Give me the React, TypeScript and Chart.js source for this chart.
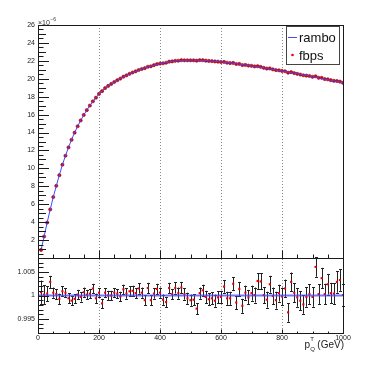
import React, { useEffect, useRef } from 'react';
import { Chart, registerables } from 'chart.js';

Chart.register(...registerables);

const FONT = '"Liberation Sans", Arial, Helvetica, sans-serif';

// p_T^Q bin positions (GeV)
const ptGeV = [
  10, 20, 30, 40, 50, 60, 70, 80, 90, 100,
  110, 120, 130, 140, 150, 160, 170, 180, 190, 200,
  210, 220, 230, 240, 250, 260, 270, 280, 290, 300,
  310, 320, 330, 340, 350, 360, 370, 380, 390, 400,
  410, 420, 430, 440, 450, 460, 470, 480, 490, 500,
  510, 520, 530, 540, 550, 560, 570, 580, 590, 600,
  610, 620, 630, 640, 650, 660, 670, 680, 690, 700,
  710, 720, 730, 740, 750, 760, 770, 780, 790, 800,
  810, 820, 830, 840, 850, 860, 870, 880, 890, 900,
  910, 920, 930, 940, 950, 960, 970, 980, 990, 1000,
];

// rambo curve (units of 1e-6)
const rambo = [
  0.9, 2.4, 3.95, 5.4, 6.8, 8.05, 9.25, 10.4, 11.4, 12.35,
  13.2, 14.0, 14.7, 15.35, 15.95, 16.5, 17.0, 17.45, 17.9, 18.3,
  18.65, 18.95, 19.2, 19.42, 19.63, 19.83, 20.02, 20.2, 20.37, 20.53,
  20.68, 20.82, 20.95, 21.08, 21.2, 21.31, 21.41, 21.51, 21.6, 21.68,
  21.75, 21.82, 21.88, 21.93, 21.97, 22.0, 22.03, 22.05, 22.07, 22.08,
  22.08, 22.08, 22.07, 22.05, 22.03, 22.01, 21.98, 21.95, 21.92, 21.88,
  21.84, 21.8, 21.76, 21.72, 21.68, 21.63, 21.58, 21.53, 21.48, 21.43,
  21.38, 21.33, 21.27, 21.22, 21.16, 21.1, 21.05, 20.99, 20.93, 20.87,
  20.81, 20.75, 20.68, 20.62, 20.56, 20.49, 20.43, 20.36, 20.3, 20.23,
  20.16, 20.1, 20.03, 19.96, 19.89, 19.83, 19.76, 19.69, 19.62, 19.55,
];

// fbps points (units of 1e-6)
const fbps = [
  0.9, 2.4, 3.95, 5.42, 6.8, 8.05, 9.24, 10.41, 11.41, 12.34,
  13.19, 13.99, 14.7, 15.35, 15.96, 16.5, 17.01, 17.48, 17.89, 18.31,
  18.62, 18.96, 19.2, 19.42, 19.64, 19.84, 20.02, 20.23, 20.38, 20.55,
  20.7, 20.83, 20.98, 21.09, 21.18, 21.34, 21.39, 21.52, 21.63, 21.69,
  21.73, 21.79, 21.91, 21.94, 22.0, 22.01, 22.07, 22.06, 22.06, 22.06,
  22.06, 22.02, 22.08, 22.07, 22.02, 21.99, 21.97, 21.93, 21.91, 21.87,
  21.88, 21.79, 21.75, 21.77, 21.65, 21.66, 21.53, 21.54, 21.47, 21.44,
  21.38, 21.4, 21.33, 21.22, 21.14, 21.15, 21.05, 20.97, 20.94, 20.87,
  20.84, 20.68, 20.74, 20.63, 20.55, 20.47, 20.39, 20.35, 20.31, 20.22,
  20.28, 20.11, 20.1, 19.97, 19.94, 19.84, 19.77, 19.75, 19.68, 19.55,
];

// fbps / rambo ratio
const ratio = [
  1.0007, 1.0002, 1.0004, 1.0029, 1.0006, 1.0003, 0.9993, 1.0009, 1.0006, 0.9994,
  0.9989, 0.9993, 1.0002, 0.9997, 1.0007, 1.0002, 1.0004, 1.0015, 0.9994, 1.0006,
  0.9983, 1.0006, 1.0000, 1.0000, 1.0006, 1.0004, 0.9998, 1.0013, 1.0004, 1.0009,
  1.0010, 1.0005, 1.0015, 1.0006, 0.9990, 1.0016, 0.9990, 1.0004, 1.0014, 1.0006,
  0.9991, 0.9986, 1.0016, 1.0003, 1.0016, 1.0005, 1.0017, 1.0003, 0.9994, 0.9990,
  0.9991, 0.9972, 1.0005, 1.0011, 0.9997, 0.9992, 0.9994, 0.9989, 0.9996, 0.9997,
  1.0019, 0.9994, 0.9994, 1.0025, 0.9985, 1.0014, 0.9978, 1.0006, 0.9996, 1.0005,
  1.0001, 1.0031, 1.0030, 1.0001, 0.9991, 1.0024, 0.9999, 0.9990, 1.0005, 0.9998,
  1.0015, 0.9964, 1.0029, 1.0006, 0.9996, 0.9989, 0.9981, 0.9997, 1.0003, 0.9997,
  1.0061, 1.0003, 1.0037, 1.0003, 1.0024, 1.0005, 1.0004, 1.0029, 1.0033, 1.0001,
];

// ratio uncertainties
const ratioErr = [
  0.0025, 0.0020, 0.0016, 0.0013, 0.0011, 0.0011, 0.0011, 0.0011, 0.0010, 0.0011,
  0.0010, 0.0010, 0.0010, 0.0010, 0.0010, 0.0010, 0.0010, 0.0010, 0.0010, 0.0010,
  0.0010, 0.0010, 0.0010, 0.0010, 0.0010, 0.0010, 0.0010, 0.0010, 0.0011, 0.0011,
  0.0011, 0.0011, 0.0011, 0.0011, 0.0011, 0.0011, 0.0011, 0.0011, 0.0011, 0.0011,
  0.0011, 0.0011, 0.0011, 0.0011, 0.0012, 0.0012, 0.0012, 0.0012, 0.0012, 0.0012,
  0.0012, 0.0012, 0.0012, 0.0012, 0.0013, 0.0013, 0.0013, 0.0013, 0.0013, 0.0013,
  0.0013, 0.0014, 0.0014, 0.0014, 0.0014, 0.0015, 0.0015, 0.0015, 0.0015, 0.0016,
  0.0016, 0.0017, 0.0017, 0.0017, 0.0017, 0.0018, 0.0018, 0.0018, 0.0018, 0.0019,
  0.0019, 0.0020, 0.0020, 0.0020, 0.0020, 0.0020, 0.0020, 0.0021, 0.0021, 0.0021,
  0.0021, 0.0021, 0.0022, 0.0022, 0.0022, 0.0022, 0.0022, 0.0023, 0.0023, 0.0023,
];

const xRange = [0, 1000];
const yTopRange = [0, 26];
const yBottomRange = [0.992, 1.008];
const yTopTicks = [0, 2, 4, 6, 8, 10, 12, 14, 16, 18, 20, 22, 24, 26];
const yBottomTicks = [0.995, 1, 1.005];
const xTickLabels = [0, 200, 400, 600, 800, 1000];
const gridX = [200, 400, 600, 800];
const legendLabels = ['rambo', 'fbps'];

const BLUE = 'rgb(70,70,255)';
const RED = 'rgb(235,0,0)';
const AXIS = '#1a1a1a';

const crisp = (v: number) => Math.round(v) + 0.5;

const rootPlugin = {
  id: 'rootStyle',
  beforeDatasetsDraw(chart: any) {
    const { ctx, chartArea, scales } = chart;
    const x = scales.x;
    ctx.save();
    ctx.strokeStyle = '#8a8a8a';
    ctx.lineWidth = 1;
    ctx.setLineDash([1, 2]);
    for (const g of gridX) {
      const px = crisp(x.getPixelForValue(g));
      ctx.beginPath();
      ctx.moveTo(px, chartArea.top);
      ctx.lineTo(px, chartArea.bottom);
      ctx.stroke();
    }
    ctx.restore();
  },
  beforeDatasetDraw(chart: any, args: any) {
    if (args.index !== 3) return;
    const { ctx, scales } = chart;
    const x = scales.x;
    const y2 = scales.y2;
    ctx.save();
    ctx.strokeStyle = '#222';
    ctx.lineWidth = 1;
    for (let i = 0; i < ptGeV.length; i++) {
      const px = crisp(x.getPixelForValue(ptGeV[i]));
      const hi = y2.getPixelForValue(ratio[i] + ratioErr[i]);
      const lo = y2.getPixelForValue(ratio[i] - ratioErr[i]);
      ctx.beginPath();
      ctx.moveTo(px, hi);
      ctx.lineTo(px, lo);
      ctx.moveTo(px - 1.5, Math.round(hi) + 0.5);
      ctx.lineTo(px + 1.5, Math.round(hi) + 0.5);
      ctx.moveTo(px - 1.5, Math.round(lo) + 0.5);
      ctx.lineTo(px + 1.5, Math.round(lo) + 0.5);
      ctx.stroke();
    }
    ctx.restore();
  },
  afterDatasetsDraw(chart: any) {
    const { ctx, chartArea, scales } = chart;
    const x = scales.x;
    const y = scales.y;
    const y2 = scales.y2;
    const L = crisp(chartArea.left);
    const R = crisp(chartArea.right);
    ctx.save();
    ctx.strokeStyle = AXIS;
    ctx.lineWidth = 1;
    // frames
    const uTop = crisp(y.top);
    const uBot = crisp(y.bottom);
    const lTop = crisp(y2.top);
    const lBot = crisp(y2.bottom);
    ctx.strokeRect(L, uTop, R - L, uBot - uTop);
    ctx.strokeRect(L, lTop, R - L, lBot - lTop);

    // upper y ticks
    ctx.beginPath();
    for (let k = 0; k <= 52; k++) {
      const v = k / 2;
      const len = k % 4 === 0 ? 10.5 : k % 2 === 0 ? 7.5 : 5;
      const py = crisp(y.getPixelForValue(v));
      ctx.moveTo(L, py);
      ctx.lineTo(L + len, py);
    }
    // lower y ticks
    for (let k = 992; k <= 1008; k++) {
      const v = k / 1000;
      const len = k % 5 === 0 ? 10.5 : 5;
      const py = crisp(y2.getPixelForValue(v));
      ctx.moveTo(L, py);
      ctx.lineTo(L + len, py);
    }
    // x ticks (upper and lower panels)
    for (let v = 0; v <= 1000; v += 50) {
      const px = crisp(x.getPixelForValue(v));
      const major = v % 200 === 0;
      ctx.moveTo(px, uBot);
      ctx.lineTo(px, uBot - (major ? 8 : 4));
      ctx.moveTo(px, lBot);
      ctx.lineTo(px, lBot - (major ? 4 : 2));
    }
    ctx.stroke();

    // multiplier x10^-6
    ctx.fillStyle = '#333';
    ctx.textBaseline = 'alphabetic';
    ctx.textAlign = 'left';
    ctx.font = `7px ${FONT}`;
    const mx = chartArea.left;
    ctx.fillText('\u00d710', mx, 24.5);
    const w10 = ctx.measureText('\u00d710').width;
    ctx.font = `5px ${FONT}`;
    ctx.fillText('\u22126', mx + w10 + 0.5, 21);

    // legend
    const lx = 286.5, ly = 26.5, lw = 53, lh = 38;
    ctx.fillStyle = '#fff';
    ctx.fillRect(lx, ly, lw, lh);
    ctx.strokeStyle = '#444';
    ctx.strokeRect(lx, ly, lw, lh);
    ctx.strokeStyle = BLUE;
    ctx.beginPath();
    ctx.moveTo(288, 37.5);
    ctx.lineTo(297, 37.5);
    ctx.stroke();
    ctx.fillStyle = RED;
    ctx.beginPath();
    ctx.arc(292.5, 55, 1.3, 0, Math.PI * 2);
    ctx.fill();
    ctx.fillStyle = '#111';
    ctx.font = `13px ${FONT}`;
    ctx.fillText(legendLabels[0], 299, 41.5);
    ctx.fillText(legendLabels[1], 299, 59.5);

    // x title: p_Q^T (GeV)
    const right = x.getPixelForValue(xRange[1]) + 1;
    ctx.fillStyle = '#222';
    ctx.font = `10px ${FONT}`;
    ctx.textAlign = 'right';
    ctx.fillText('(GeV)', right, 347.5);
    const wg = ctx.measureText('(GeV)').width;
    const subX = right - wg - 7;
    ctx.font = `6px ${FONT}`;
    ctx.textAlign = 'left';
    ctx.fillText('T', subX, 341);
    ctx.fillText('Q', subX, 350.5);
    ctx.font = `10px ${FONT}`;
    ctx.textAlign = 'right';
    ctx.fillText('p', subX - 0.3, 347.5);
    ctx.restore();
  },
};

export default function App() {
  const ref = useRef<HTMLCanvasElement | null>(null);

  useEffect(() => {
    if (!ref.current) return;
    const chart = new Chart(ref.current, {
      type: 'line',
      data: {
        datasets: [
          {
            label: legendLabels[0],
            data: ptGeV.map((p, i) => ({ x: p, y: rambo[i] })),
            borderColor: BLUE,
            borderWidth: 1,
            pointRadius: 0,
            tension: 0,
            yAxisID: 'y',
          },
          {
            label: legendLabels[1],
            data: ptGeV.map((p, i) => ({ x: p, y: fbps[i] })),
            showLine: false,
            pointStyle: 'circle',
            pointRadius: 1.6,
            backgroundColor: RED,
            borderColor: 'rgb(150,0,0)',
            borderWidth: 0.6,
            yAxisID: 'y',
          },
          {
            label: 'unity',
            data: [
              { x: xRange[0], y: 1 },
              { x: xRange[1], y: 1 },
            ],
            borderColor: 'rgba(70,70,255,0.75)',
            borderWidth: 2,
            pointRadius: 0,
            yAxisID: 'y2',
          },
          {
            label: 'ratio',
            data: ptGeV.map((p, i) => ({ x: p, y: ratio[i] })),
            showLine: false,
            pointStyle: 'rect',
            pointRadius: 1.5,
            backgroundColor: RED,
            borderColor: RED,
            borderWidth: 0,
            yAxisID: 'y2',
          },
        ],
      },
      options: {
        animation: false,
        responsive: false,
        devicePixelRatio: 1,
        layout: { padding: { left: 0, right: 39, top: 25, bottom: 0 } },
        plugins: { legend: { display: false }, tooltip: { enabled: false } },
        scales: {
          x: {
            type: 'linear',
            min: xRange[0],
            max: xRange[1],
            afterBuildTicks: (s: any) => {
              s.ticks = xTickLabels.map((v) => ({ value: v }));
            },
            ticks: {
              autoSkip: false,
              maxRotation: 0,
              padding: 1,
              color: '#222',
              font: { size: 7, family: FONT },
              callback: (v: any) => String(v),
            },
            grid: { display: false, drawTicks: false },
            border: { display: false },
            afterFit: (s: any) => {
              s.height = 37;
            },
          },
          y: {
            type: 'linear',
            position: 'left',
            stack: 'panels',
            stackWeight: 233,
            weight: 1,
            min: yTopRange[0],
            max: yTopRange[1],
            afterBuildTicks: (s: any) => {
              s.ticks = yTopTicks.map((v) => ({ value: v }));
            },
            ticks: {
              autoSkip: false,
              padding: 3,
              color: '#222',
              font: { size: 7, family: FONT },
              callback: (v: any) => (v === 0 ? '' : String(v)),
            },
            grid: { display: false, drawTicks: false },
            border: { display: false },
            afterFit: (s: any) => {
              s.width = 38;
            },
          },
          y2: {
            type: 'linear',
            position: 'left',
            stack: 'panels',
            stackWeight: 75,
            weight: 0,
            min: yBottomRange[0],
            max: yBottomRange[1],
            afterBuildTicks: (s: any) => {
              s.ticks = yBottomTicks.map((v) => ({ value: v }));
            },
            ticks: {
              autoSkip: false,
              padding: 3,
              color: '#222',
              font: { size: 7, family: FONT },
              callback: (v: any) => (Math.abs(v - 1) < 1e-9 ? '1' : Number(v).toFixed(3)),
            },
            grid: { display: false, drawTicks: false },
            border: { display: false },
            afterFit: (s: any) => {
              s.width = 38;
            },
          },
        },
      },
      plugins: [rootPlugin],
    } as any);
    return () => chart.destroy();
  }, []);

  return (
    <div style={{ position: 'absolute', left: 0, top: 0, width: 382, height: 370, background: '#fff' }}>
      <canvas ref={ref} width={382} height={370} style={{ display: 'block' }} />
    </div>
  );
}
